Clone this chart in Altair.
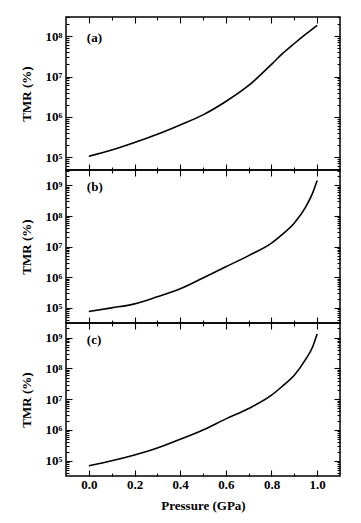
import altair as alt
import pandas as pd

# ---- data ----
pressure_a = [0.0, 0.1, 0.2, 0.3, 0.4, 0.5, 0.6, 0.7, 0.8, 0.85, 0.9, 0.95, 1.0]
tmr_a = [1.05e5, 1.5e5, 2.3e5, 3.7e5, 6.3e5, 1.12e6, 2.4e6, 6.0e6, 2.0e7, 3.8e7, 6.6e7, 1.12e8, 1.86e8]

pressure_b = [0.0, 0.1, 0.2, 0.3, 0.4, 0.5, 0.6, 0.7, 0.8, 0.85, 0.9, 0.95, 0.98, 1.0]
tmr_b = [7.6e4, 1.0e5, 1.35e5, 2.3e5, 4.2e5, 9.5e5, 2.2e6, 5.1e6, 1.3e7, 2.6e7, 5.9e7, 2.0e8, 5.6e8, 1.45e9]

pressure_c = [0.0, 0.1, 0.2, 0.3, 0.4, 0.5, 0.6, 0.7, 0.8, 0.85, 0.9, 0.95, 0.98, 1.0]
tmr_c = [6.9e4, 1.0e5, 1.55e5, 2.6e5, 5.0e5, 1.0e6, 2.3e6, 5.0e6, 1.35e7, 2.75e7, 6.0e7, 2.0e8, 5.0e8, 1.32e9]

panel_tags = ["(a)", "(b)", "(c)"]
tag_y = [1e8, 1e9, 1e9]
y_domains = [[4.8e4, 3.0e8], [3.2e4, 3.2e9], [3.2e4, 3.0e9]]
x_domain = [-0.1, 1.1]
x_major = [0.0, 0.2, 0.4, 0.6, 0.8, 1.0]
x_minor = [0.1, 0.3, 0.5, 0.7, 0.9]
superscripts = {4: "⁴", 5: "⁵", 6: "⁶", 7: "⁷", 8: "⁸", 9: "⁹"}

pressures = [pressure_a, pressure_b, pressure_c]
tmrs = [tmr_a, tmr_b, tmr_c]

W, H = 274, 153
FONT = "Liberation Serif"
MAJ = alt.ExprRef("-6")   # negative size -> ticks point into the plot
MIN = alt.ExprRef("-3")


def tick_axis(orient, vals, size):
    return alt.Axis(orient=orient, values=vals, labels=False, domain=False, grid=False, ticks=True,
                    tickColor="black", tickWidth=1.1, tickSize=size, title=None)


def panel(i, show_x):
    df = pd.DataFrame({"p": pressures[i], "t": tmrs[i]})
    lo, hi = y_domains[i]
    xs = alt.Scale(domain=x_domain, nice=False, zero=False)
    ys = alt.Scale(type="log", domain=[lo, hi], nice=False)

    y_maj = [10 ** e for e in range(4, 10) if lo <= 10 ** e <= hi]
    y_min = [k * 10 ** e for e in range(4, 10) for k in range(2, 10) if lo <= k * 10 ** e <= hi]

    label_expr = " : ".join(
        f"datum.value == {10 ** e} ? '10{superscripts[e]}'" for e in range(4, 10) if lo <= 10 ** e <= hi
    ) + " : ''"

    if show_x:
        x_axis1 = alt.Axis(orient="bottom", values=x_major, format=".1f", ticks=True, tickSize=MAJ,
                           tickColor="black", tickWidth=1.1, domain=False,
                           grid=False, labelFont=FONT, labelFontSize=13, labelFontWeight="bold",
                           labelColor="black", labelPadding=8, title="Pressure (GPa)",
                           titleFont=FONT, titleFontSize=13, titleFontWeight="bold",
                           titleColor="black", titlePadding=8)
    else:
        x_axis1 = tick_axis("bottom", x_major, MAJ)

    y_axis1 = alt.Axis(orient="left", values=y_maj, labelExpr=label_expr, ticks=True, tickSize=MAJ,
                       tickColor="black", tickWidth=1.1, domain=False,
                       grid=False, labelFont=FONT, labelFontSize=13, labelFontWeight="bold",
                       labelColor="black", labelPadding=10, title="TMR (%)", titleFont=FONT,
                       titleFontSize=13, titleFontWeight="bold", titleColor="black", titlePadding=12)

    line = alt.Chart(df).mark_line(color="black", strokeWidth=1.6, interpolate="monotone").encode(
        x=alt.X("p:Q", scale=xs, axis=x_axis1),
        y=alt.Y("t:Q", scale=ys, axis=y_axis1),
    )

    tag_df = pd.DataFrame({"p": [0.0], "t": [tag_y[i]], "label": [panel_tags[i]]})
    tag = alt.Chart(tag_df).mark_text(align="left", baseline="middle", font=FONT, fontSize=13,
                                      fontWeight="bold", color="black", dx=-2, dy=2).encode(
        x=alt.X("p:Q", scale=xs, axis=tick_axis("bottom", x_minor, MIN)),
        y=alt.Y("t:Q", scale=ys, axis=tick_axis("left", y_min, MIN)),
        text="label:N",
    )

    other_sides = []
    for xv, yv, size in [(x_major, y_maj, MAJ), (x_minor, y_min, MIN)]:
        other_sides.append(
            alt.Chart(df).mark_point(opacity=0).encode(
                x=alt.X("p:Q", scale=xs, axis=tick_axis("top", xv, size)),
                y=alt.Y("t:Q", scale=ys, axis=tick_axis("right", yv, size)),
            )
        )

    return alt.layer(line, tag, *other_sides).resolve_axis(x="independent", y="independent").properties(
        width=W, height=H
    )


chart = alt.vconcat(panel(0, False), panel(1, False), panel(2, True), spacing=0, bounds="flush").properties(
    padding={"left": 11, "top": 7, "right": 5, "bottom": 5},
    background="white",
).configure_view(stroke="black", strokeWidth=1.5)

chart.save("out.html", embed_options={"renderer": "svg", "actions": False})
